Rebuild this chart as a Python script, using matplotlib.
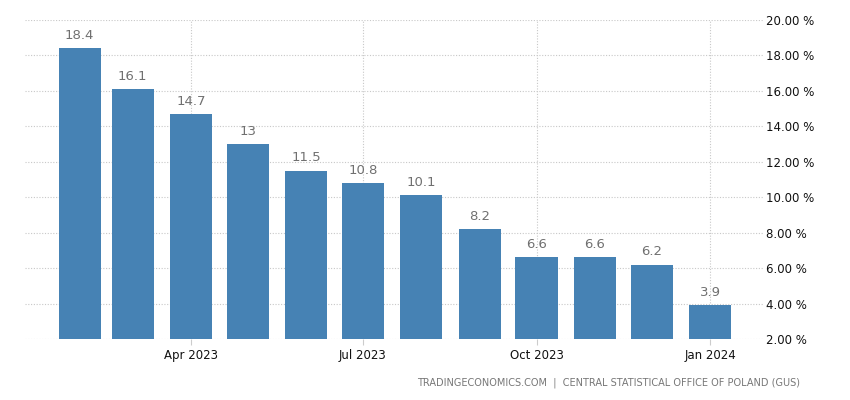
import matplotlib
matplotlib.use("Agg")
import matplotlib.pyplot as plt
import matplotlib.dates as mdates
import numpy as np
import datetime as dt

months = ["2023-02", "2023-03", "2023-04", "2023-05", "2023-06", "2023-07",
          "2023-08", "2023-09", "2023-10", "2023-11", "2023-12", "2024-01"]
values = [18.4, 16.1, 14.7, 13, 11.5, 10.8, 10.1, 8.2, 6.6, 6.6, 6.2, 3.9]
value_labels = ["18.4", "16.1", "14.7", "13", "11.5", "10.8", "10.1", "8.2", "6.6", "6.6", "6.2", "3.9"]
xtick_dates = ["2023-04", "2023-07", "2023-10", "2024-01"]
xtick_labels = ["Apr 2023", "Jul 2023", "Oct 2023", "Jan 2024"]
yticks = [2, 4, 6, 8, 10, 12, 14, 16, 18, 20]
source = "TRADINGECONOMICS.COM  |  CENTRAL STATISTICAL OFFICE OF POLAND (GUS)"

def to_date(s):
    y, m = s.split("-")
    return dt.datetime(int(y), int(m), 1)

x = mdates.date2num([to_date(m) for m in months])
xt = mdates.date2num([to_date(m) for m in xtick_dates])

fig = plt.figure(figsize=(8.5, 4), dpi=100)
ax = fig.add_axes([25/850, 1-339/400, (763-25)/850, (339-20)/400])

ax.bar(x, values, width=22.3, bottom=0, color="#4682b4", zorder=2)
for xi, v, lab in zip(x, values, value_labels):
    ax.text(xi, v + 0.35, lab, ha="center", va="bottom", fontsize=9.5, color="#707070", zorder=3)

ax.set_ylim(2, 20)
ax.set_xlim(mdates.date2num(dt.datetime(2023, 1, 3)), mdates.date2num(dt.datetime(2024, 1, 29)))
ax.set_yticks(yticks)
ax.set_yticklabels([f"{t:.2f} %" for t in yticks])
ax.yaxis.tick_right()
ax.tick_params(axis="y", length=0, pad=2, labelsize=8.5, labelcolor="#111111")
ax.set_xticks(xt)
ax.set_xticklabels(xtick_labels)
ax.tick_params(axis="x", length=4, color="#cccccc", pad=3, labelsize=8.5, labelcolor="#111111")

ax.grid(True, which="major", axis="both", linestyle=(0, (1, 1.5)), color="#c8c8c8", linewidth=0.8, zorder=0)
ax.set_axisbelow(True)
for s in ax.spines.values():
    s.set_visible(False)

fig.text(800/850, 1-383/400, source, ha="right", va="center", fontsize=7, color="#777777")

fig.savefig("out.png", dpi=100)
